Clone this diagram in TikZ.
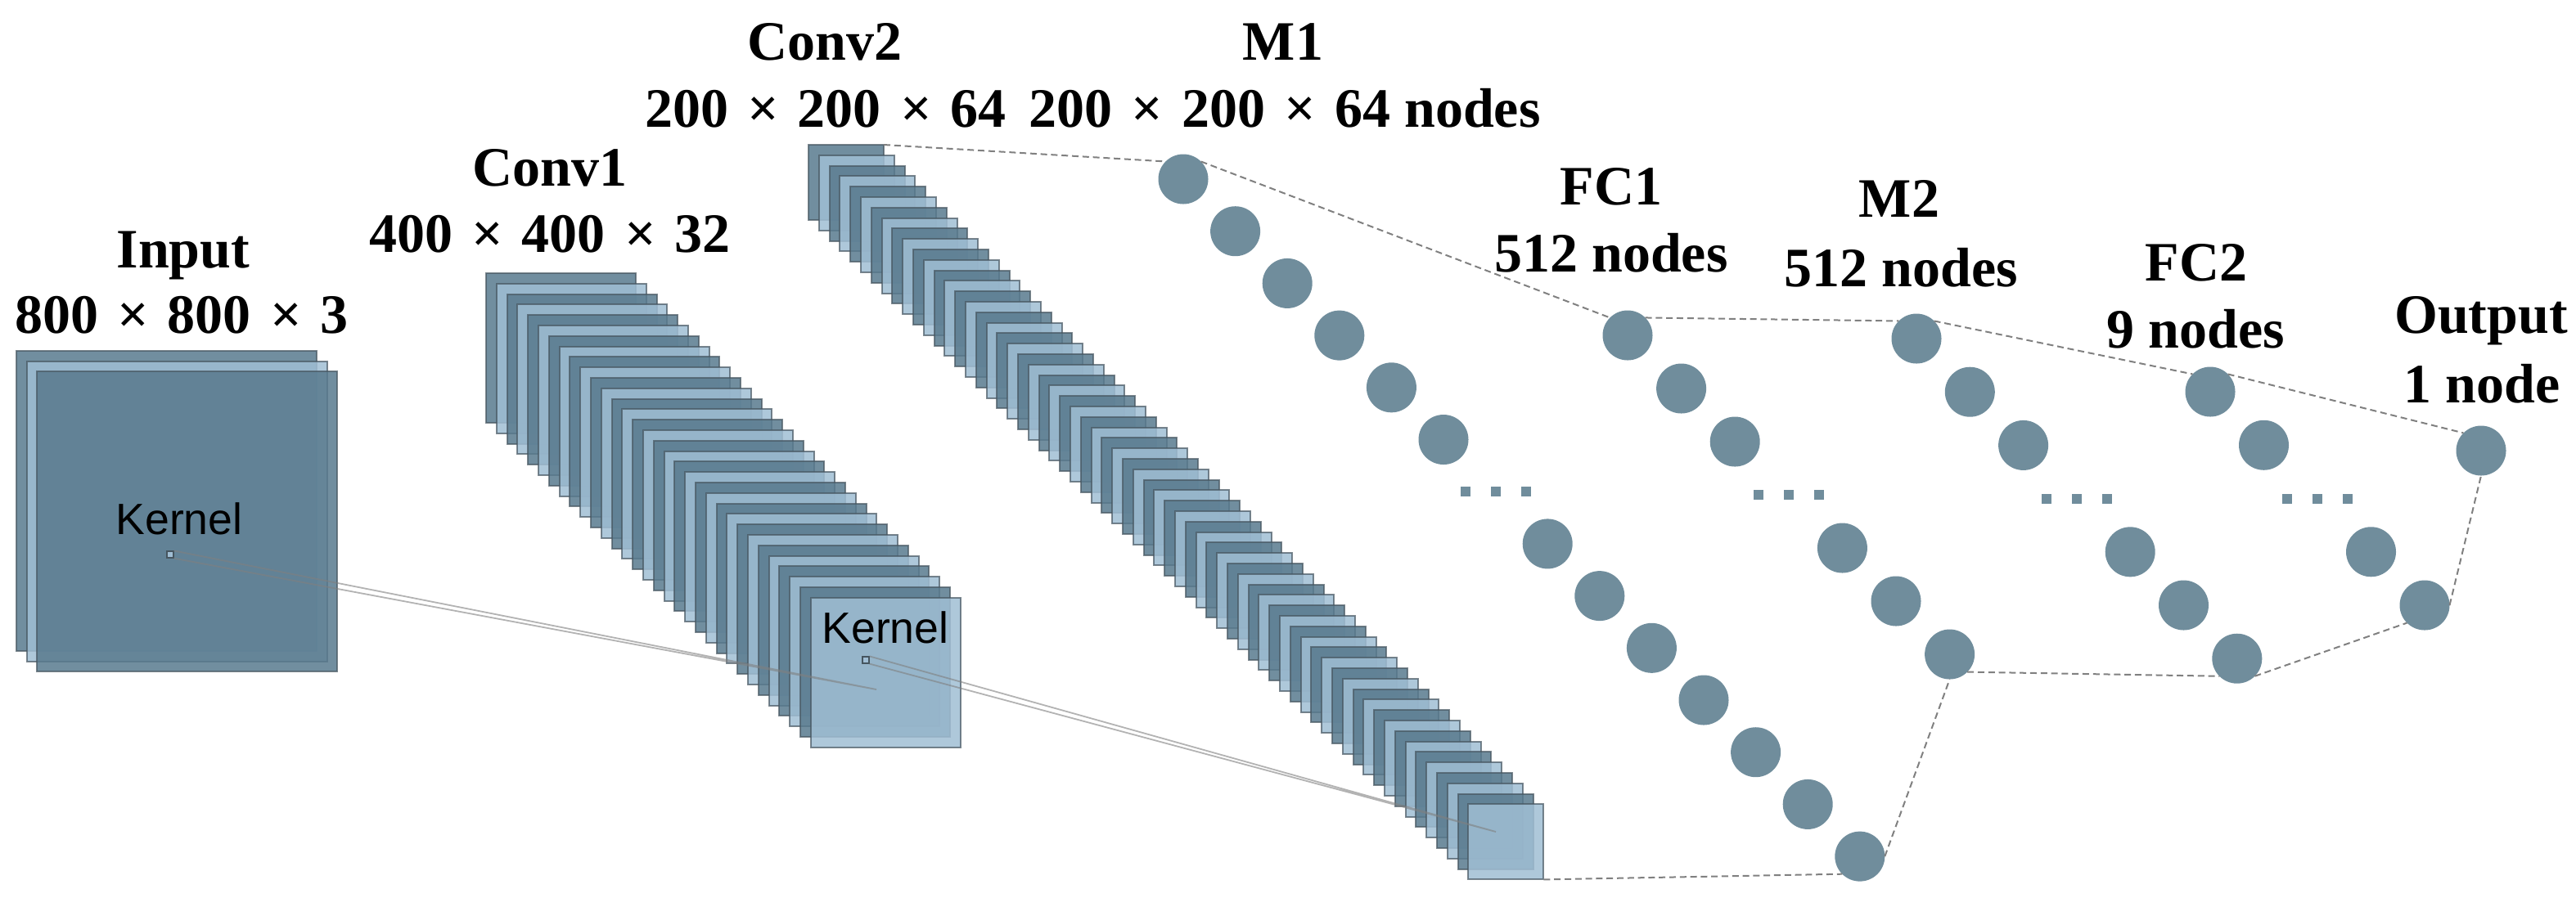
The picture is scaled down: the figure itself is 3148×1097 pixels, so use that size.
\documentclass[tikz,border=0pt]{standalone}
\usepackage{fontspec}
\setmainfont{Liberation Serif}
\newfontfamily\kernfont{Liberation Sans}
\definecolor{fmdark}{RGB}{88,122,142}
\definecolor{fmlight}{RGB}{160,190,212}
\definecolor{boxedge}{RGB}{70,85,95}
\definecolor{nodecol}{RGB}{112,141,156}
\newcommand{\by}{\hspace{0.34em}×\hspace{0.34em}}

\begin{document}
\begin{tikzpicture}[x=0.25pt,y=-0.25pt,
    fmap/.style={rectangle,draw=boxedge,line width=0.5pt,draw opacity=0.7,fill opacity=0.85,
                 inner sep=0pt,outer sep=0pt,anchor=north west,minimum size=#1},
    neuron/.style={circle,fill=nodecol,inner sep=0pt,outer sep=0pt,minimum size=15.25pt},
    dotsq/.style={rectangle,fill=nodecol,inner sep=0pt,minimum size=3pt},
    ksq/.style={rectangle,draw=boxedge,fill=fmlight,line width=0.3pt,inner sep=0pt,minimum size=2pt},
    kline/.style={draw=gray,line width=0.45pt,draw opacity=0.6},
    outline/.style={draw=gray,line width=0.5pt,dash pattern=on 2pt off 1.2pt},
    lbl/.style={font=\bfseries\fontsize{17}{20}\selectfont,anchor=base,inner sep=0pt},
    kern/.style={font=\kernfont\fontsize{13.4}{16}\selectfont,anchor=base,inner sep=0pt}]
  \useasboundingbox (0,0) rectangle (3148,1097);

  % feature maps
  \foreach \i [evaluate=\i as \p using {int(100-100*mod(\i,2))}] in {1,2,3}
    \node[fmap=91.75pt,fill=fmlight!\p!fmdark] (input-\i) at ({20+12.6*(\i-1)},{429+12.6*(\i-1)}) {};
  \foreach \i [evaluate=\i as \p using {int(100-100*mod(\i,2))}] in {1,...,32}
    \node[fmap=45.75pt,fill=fmlight!\p!fmdark] (conv1-\i) at ({594+12.8*(\i-1)},{334+12.8*(\i-1)}) {};
  \foreach \i [evaluate=\i as \p using {int(100-100*mod(\i,2))}] in {1,...,64}
    \node[fmap=23pt,fill=fmlight!\p!fmdark] (conv2-\i) at ({988+12.8*(\i-1)},{177+12.8*(\i-1)}) {};

  % kernels
  \node[kern] (kin-txt) at (219,653) {Kernel};
  \node[kern] (kc1-txt) at (1082,786) {Kernel};
  \node[ksq] (kin) at (208,678) {};
  \node[ksq] (kc1) at (1058,807) {};
  \coordinate (kin-end) at (1071,843);
  \coordinate (kc1-end) at (1828,1017);
  \draw[kline] (kin.north east) -- (kin-end) (kin.south east) -- (kin-end);
  \draw[kline] (kc1.north east) -- (kc1-end) (kc1.south east) -- (kc1-end);

  % dense layers
  \foreach \nm/\x/\y/\sx/\sy/\n/\gap in {m1/1446/219/63.6/63.7/13/6, fc1/1989/410/65.6/65/6/3,
                                         m2/2342/414/65.3/65.2/6/3, fc2/2701/479/65.5/65.25/4/2}{
    \foreach \k in {0,...,\n}{
      \ifnum\k=\gap
        \foreach \d in {-1,0,1}
          \node[dotsq] (\nm-dot\d) at ({\x+\k*\sx+37*\d},{\y+\k*\sy}) {};
      \else
        \node[neuron] (\nm-\k) at ({\x+\k*\sx},{\y+\k*\sy}) {};
      \fi
    }
  }
  \node[neuron] (out) at (3032,551) {};

  % outline
  \draw[outline] (conv2-1.north east) -- (m1-0.north west)
                 (m1-0.north east) -- (fc1-0.north west)
                 (fc1-0.north east) -- (m2-0.north west)
                 (m2-0.north east) -- (fc2-0.north west)
                 (fc2-0.north east) -- (out.north west);
  \draw[outline] (conv2-64.south east) -- (m1-13.south west)
                 (m1-13.east) -- (fc1-6.south)
                 (fc1-6.south east) -- (m2-6.south west)
                 (m2-6.south east) -- (fc2-4.south west)
                 (fc2-4.east) -- (out.south);

  % labels
  \node[lbl] (input-name) at (224,327) {Input};
  \node[lbl] (input-size) at (222,407) {800\by800\by3};
  \node[lbl] (conv1-name) at (672,227) {Conv1};
  \node[lbl] (conv1-size) at (672,308) {400\by400\by32};
  \node[lbl] (conv2-name) at (1008,73) {Conv2};
  \node[lbl] (conv2-size) at (1009,155) {200\by200\by64};
  \node[lbl] (m1-name) at (1568,73) {M1};
  \node[lbl] (m1-size) at (1570,155) {200\by200\by64 nodes};
  \node[lbl] (fc1-name) at (1969,250) {FC1};
  \node[lbl] (fc1-size) at (1969,332) {512 nodes};
  \node[lbl] (m2-name) at (2321,265) {M2};
  \node[lbl] (m2-size) at (2323,350) {512 nodes};
  \node[lbl] (fc2-name) at (2684,343) {FC2};
  \node[lbl] (fc2-size) at (2683,425) {9 nodes};
  \node[lbl] (out-name) at (3032,407) {Output};
  \node[lbl] (out-size) at (3033,492) {1 node};
\end{tikzpicture}
\end{document}
